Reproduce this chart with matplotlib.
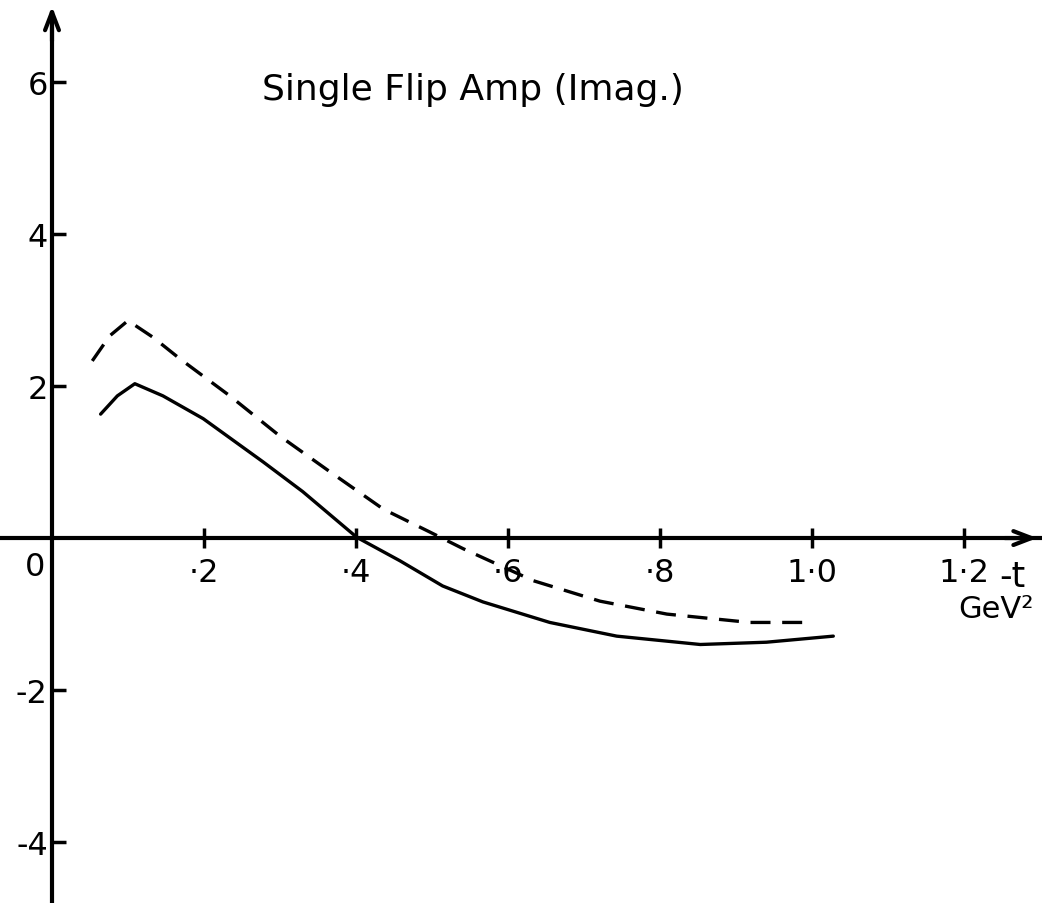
import numpy as np
import matplotlib.pyplot as plt

# -t (GeV^2) and amplitude values for the two model curves
t_solid = [0.064, 0.086, 0.109, 0.146, 0.199, 0.278, 0.330, 0.401, 0.458,
           0.514, 0.567, 0.655, 0.743, 0.853, 0.940, 1.028]
amp_solid = [1.63, 1.87, 2.03, 1.87, 1.57, 1.00, 0.61, 0.01, -0.30,
             -0.63, -0.84, -1.11, -1.29, -1.40, -1.37, -1.29]

t_dash = [0.053, 0.076, 0.100, 0.133, 0.168, 0.234, 0.300, 0.366, 0.436,
          0.497, 0.541, 0.633, 0.721, 0.809, 0.918, 0.995]
amp_dash = [2.33, 2.66, 2.86, 2.64, 2.36, 1.87, 1.34, 0.87, 0.38,
            0.08, -0.14, -0.56, -0.83, -1.00, -1.11, -1.11]

xticks = [0.2, 0.4, 0.6, 0.8, 1.0, 1.2]
xticklabels = ['·2', '·4', '·6', '·8', '1·0', '1·2']
yticks = [-4, -2, 2, 4, 6]
yticklabels = ['-4', '-2', '2', '4', '6']

title = 'Single Flip Amp (Imag.)'

fig = plt.figure(figsize=(10.42, 9.04), dpi=100)
ax = fig.add_axes([0, 0, 1, 1])
ax.set_xlim(-0.0684, 1.3026)
ax.set_ylim(-4.80, 7.09)

ax.plot(t_solid, amp_solid, color='black', lw=2.4, solid_capstyle='round')
ax.plot(t_dash, amp_dash, color='black', lw=2.4, dashes=(6, 3.5))

# axes through the origin
for side in ['top', 'right']:
    ax.spines[side].set_visible(False)
ax.spines['left'].set_position(('data', 0))
ax.spines['bottom'].set_position(('data', 0))
ax.spines['left'].set_linewidth(3)
ax.spines['bottom'].set_linewidth(3)
ax.spines['left'].set_bounds(-4.8, 6.9)
ax.spines['bottom'].set_bounds(-0.0684, 1.30)

ax.set_xticks(xticks)
ax.set_xticklabels(xticklabels)
ax.set_yticks(yticks)
ax.set_yticklabels(yticklabels)
ax.tick_params(axis='y', direction='in', length=10, width=2.5, pad=3,
               labelsize=23)
ax.tick_params(axis='x', direction='inout', length=15, width=2.5, pad=6,
               labelsize=23)

# arrow heads
ax.annotate('', xy=(0, 7.03), xytext=(0, 6.5),
            arrowprops=dict(arrowstyle='->,head_length=1.3,head_width=0.5',
                            lw=3, color='black'))
ax.annotate('', xy=(1.300, 0), xytext=(1.25, 0),
            arrowprops=dict(arrowstyle='->,head_length=1.3,head_width=0.5',
                            lw=3, color='black'))

ax.text(-0.022, -0.37, '0', fontsize=23, ha='center', va='center')
ax.text(1.246, -0.50, '-t', fontsize=25, ha='left', va='center')
ax.text(1.192, -0.92, 'GeV²', fontsize=22, ha='left', va='center',
        clip_on=True)

ax.text(0.276, 5.90, title, fontsize=26, ha='left', va='center')

fig.savefig('out.png', dpi=100)
